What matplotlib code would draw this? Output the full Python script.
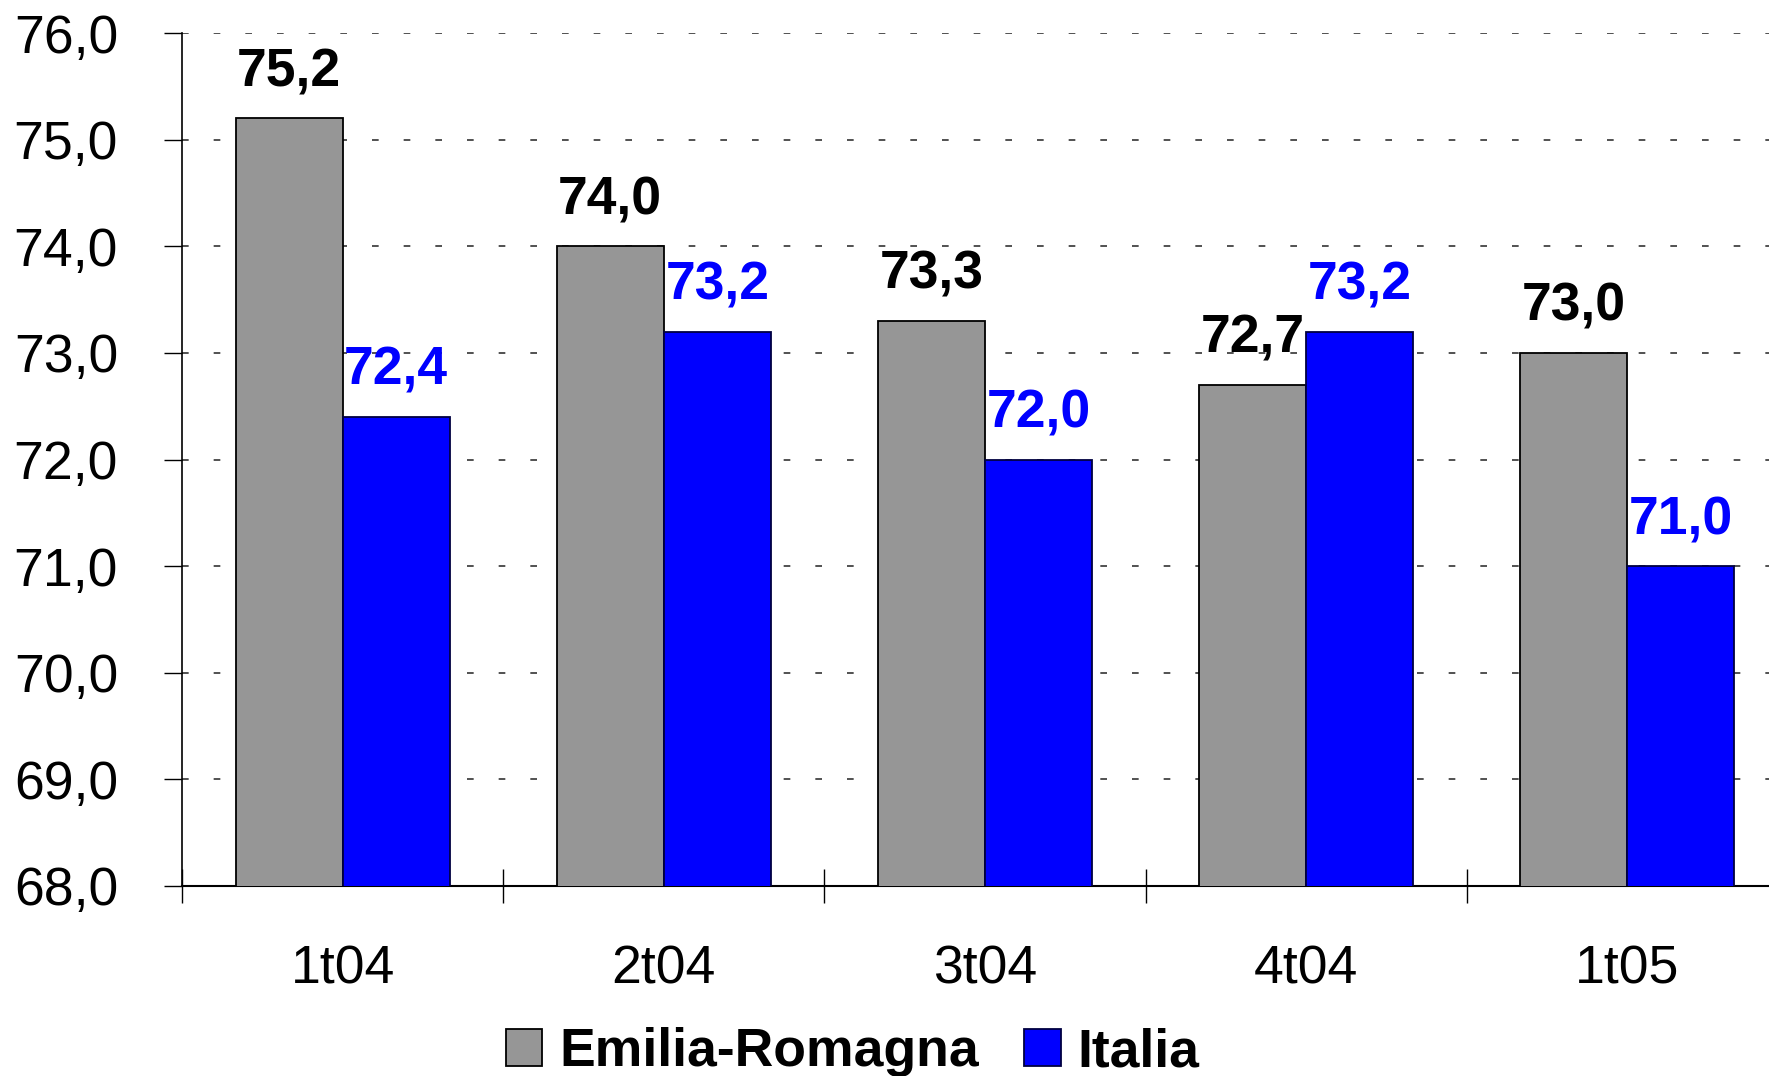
import matplotlib
matplotlib.use("Agg")
import matplotlib.pyplot as plt
from matplotlib.ticker import FuncFormatter, FixedLocator
import numpy as np

categories = ["1t04", "2t04", "3t04", "4t04", "1t05"]
emilia = [75.2, 74.0, 73.3, 72.7, 73.0]
italia = [72.4, 73.2, 72.0, 73.2, 71.0]
series_names = ["Emilia-Romagna", "Italia"]
yticks = [68, 69, 70, 71, 72, 73, 74, 75, 76]

plt.rcParams['font.family'] = ['Liberation Sans', 'DejaVu Sans']

W, H = 1769, 1076
fig = plt.figure(figsize=(W / 100, H / 100), dpi=100)
ax = fig.add_axes([182 / W, 1 - 886 / H, 1606 / W, (886 - 33) / H])

x = np.arange(len(categories))
bw = 1 / 3
gray = "#969696"
blue = "#0000FF"
b1 = ax.bar(x - bw / 2, emilia, bw, color=gray, edgecolor="black", linewidth=1.3,
            label=series_names[0], zorder=3)
b2 = ax.bar(x + bw / 2, italia, bw, color=blue, edgecolor="#000040", linewidth=1.3,
            label=series_names[1], zorder=3)

fmt = lambda v: f"{v:.1f}".replace(".", ",")
for xi, v in zip(x - bw / 2, emilia):
    ax.annotate(fmt(v), (xi, v), xytext=(0, 23), textcoords="offset points",
                ha="center", va="baseline", fontsize=38.5, fontweight="bold", color="black", zorder=5)
for xi, v in zip(x + bw / 2, italia):
    ax.annotate(fmt(v), (xi, v), xytext=(0, 23), textcoords="offset points",
                ha="center", va="baseline", fontsize=38.5, fontweight="bold", color=blue, zorder=5)

ax.set_ylim(68, 76)
ax.set_xlim(-0.5, len(categories) - 0.5)
ax.set_yticks(yticks)
ax.yaxis.set_major_formatter(FuncFormatter(lambda v, p: fmt(v)))
ax.tick_params(axis="y", direction="out", length=13, width=1, labelsize=38.5, pad=33)

ax.xaxis.set_major_locator(FixedLocator(np.arange(len(categories) + 1) - 0.5))
ax.xaxis.set_minor_locator(FixedLocator(x))
ax.set_xticklabels([], minor=False)
ax.set_xticklabels(categories, minor=True)
ax.tick_params(axis="x", which="major", direction="inout", length=25, width=1)
ax.tick_params(axis="x", which="minor", length=0, labelsize=38.5, pad=42)

ax.yaxis.grid(True, linestyle=(0, (4, 15)), color="#333333", linewidth=1.2, zorder=0)
ax.set_axisbelow(True)
for s in ["top", "right"]:
    ax.spines[s].set_visible(False)
ax.spines["left"].set_linewidth(1.2)
ax.spines["bottom"].set_linewidth(1.5)

fig.legend(handles=[b1, b2], labels=series_names, loc="center", bbox_to_anchor=(0.482, 0.022),
           ncol=2, frameon=False, prop={"size": 38.5, "weight": "bold"},
           handlelength=0.68, handleheight=0.68, handletextpad=0.32, columnspacing=0.85,
           borderpad=0)

fig.savefig("out.png", dpi=100)
